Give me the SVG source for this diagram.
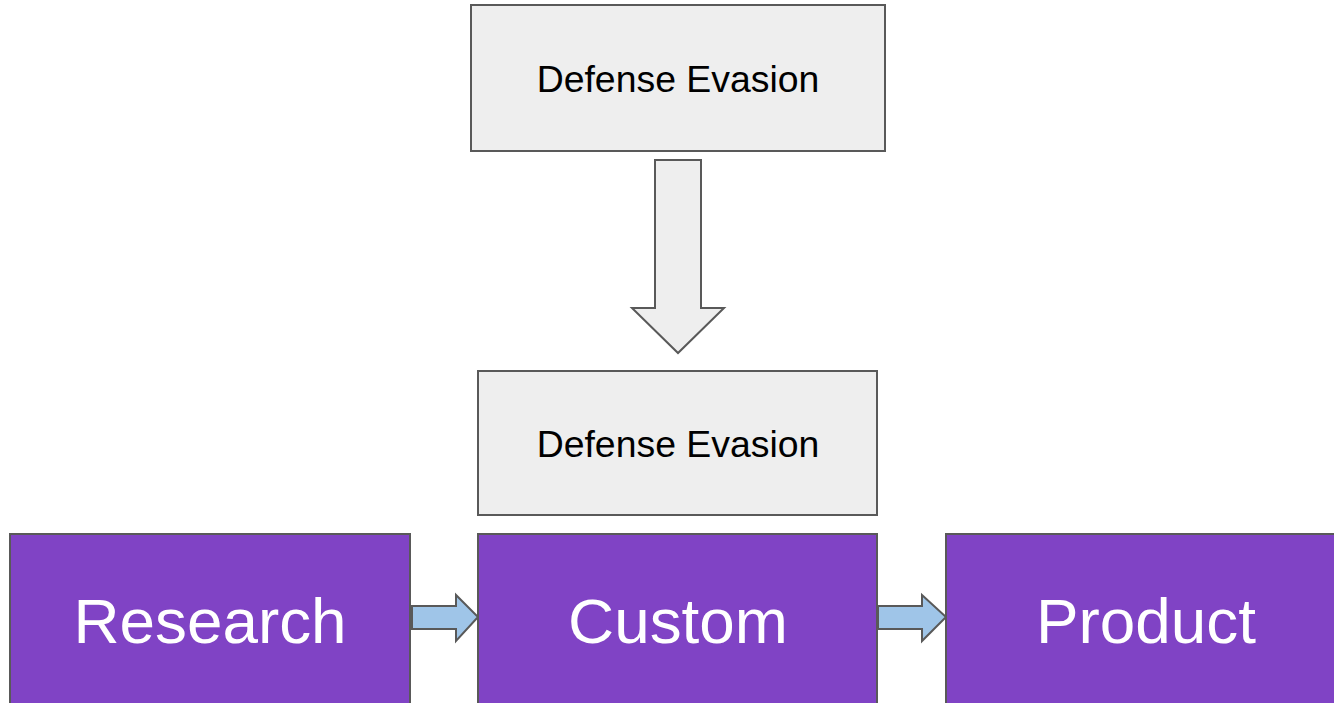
<svg xmlns="http://www.w3.org/2000/svg" width="1334" height="703" viewBox="0 0 1334 703">
<style>
.gray{fill:#eeeeee;stroke:#595959;stroke-width:2}
.purple{fill:#8043c5;stroke:#595959;stroke-width:2}
.blue{fill:#9fc5e8;stroke:#595959;stroke-width:2;stroke-linejoin:miter}
.t1{font-family:"Liberation Sans",Arial,sans-serif;font-size:37.4px;fill:#000;text-anchor:middle}
.t2{font-family:"Liberation Sans",Arial,sans-serif;font-size:63.8px;fill:#fff;text-anchor:middle}
</style>
<rect width="1334" height="703" fill="#fff"/>
<g id="connectors">
<polygon class="gray" points="655,160 701,160 701,308 724,308 678,353 632,308 655,308"/>
<polygon class="blue" points="412,606 456,606 456,595 478,617 456,641 456,629 412,629"/>
<polygon class="blue" points="878,606 922,606 922,595 946,617 922,641 922,629 878,629"/>
</g>
<g id="node-defense-top">
<rect class="gray" x="471" y="5" width="414" height="146"/>
<text class="t1" x="678" y="92">Defense Evasion</text>
</g>
<g id="node-defense-mid">
<rect class="gray" x="478" y="371" width="399" height="144"/>
<text class="t1" x="678" y="457">Defense Evasion</text>
</g>
<g id="node-research">
<rect class="purple" x="10" y="534" width="400" height="175"/>
<text class="t2" x="210" y="643">Research</text>
</g>
<g id="node-custom">
<rect class="purple" x="478" y="534" width="399" height="175"/>
<text class="t2" x="678" y="643">Custom</text>
</g>
<g id="node-product">
<rect class="purple" x="946" y="534" width="400" height="175"/>
<text class="t2" x="1146" y="643">Product</text>
</g>
</svg>
